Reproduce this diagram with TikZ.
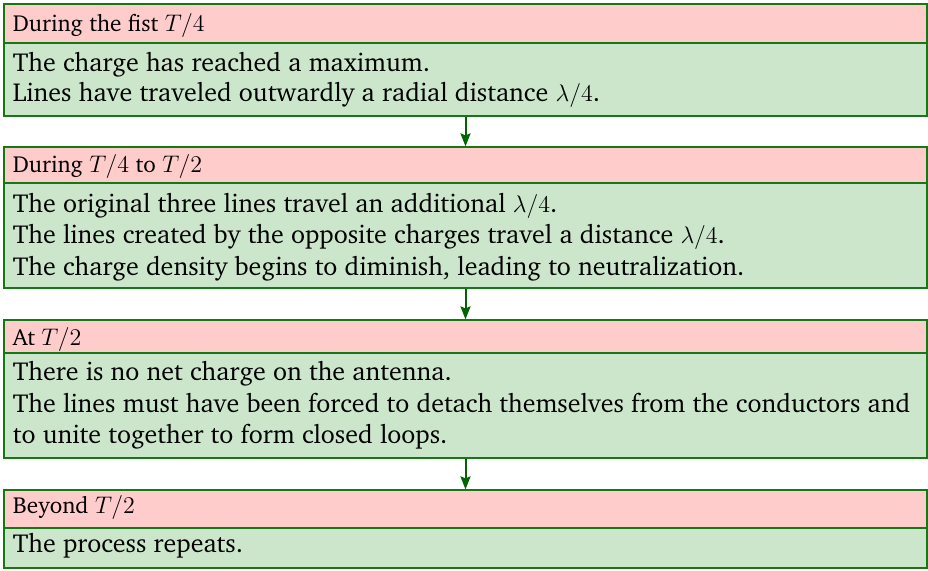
\documentclass[tikz,border=0pt]{standalone}
\usepackage[T1]{fontenc}
\usepackage{charter}
\usetikzlibrary{arrows.meta,fit}
\definecolor{hdrfill}{RGB}{255,204,204}
\definecolor{bodyfill}{RGB}{204,230,204}
\definecolor{edgec}{RGB}{20,120,20}
\definecolor{arrowc}{RGB}{0,100,0}
\tikzset{
  hdrbox/.style={draw=edgec, fill=hdrfill, line width=0.6pt, inner sep=0pt},
  bodybox/.style={draw=edgec, fill=bodyfill, line width=0.6pt, inner sep=0pt},
  htxt/.style={anchor=base west, inner sep=0pt, font=\fontsize{11.6}{13}\selectfont},
  btxt/.style={anchor=base west, inner sep=0pt, font=\fontsize{13}{15}\selectfont},
  flowarrow/.style={draw=arrowc, line width=1pt, -{Stealth[length=6.5pt,width=5pt,inset=1pt]}}
}
\begin{document}
\begin{tikzpicture}[x=0.5pt,y=-0.5pt]
\useasboundingbox (0,0) rectangle (928,570);
% box 1
\node[bodybox, fit={(4,43) (927,116)}] (b1) {};
\node[hdrbox, fit={(4,4) (927,43)}] (h1) {};
\node[htxt] (h1t) at (12.5,31) {During the fist $T/4$};
\node[btxt] (b1a) at (12.5,71) {The charge has reached a maximum.};
\node[btxt] (b1b) at (12.5,101) {Lines have traveled outwardly a radial distance $\lambda/4$.};
% box 2
\node[bodybox, fit={(4,183) (927,288)}] (b2) {};
\node[hdrbox, fit={(4,147) (927,183)}] (h2) {};
\node[htxt] (h2t) at (12.5,172) {During $T/4$ to $T/2$};
\node[btxt] (b2a) at (12.5,212) {The original three lines travel an additional $\lambda/4$.};
\node[btxt] (b2b) at (12.5,243) {The lines created by the opposite charges travel a distance $\lambda/4$.};
\node[btxt] (b2c) at (12.5,275) {The charge density begins to diminish, leading to neutralization.};
% box 3
\node[bodybox, fit={(4,353) (927,458)}] (b3) {};
\node[hdrbox, fit={(4,320) (927,353)}] (h3) {};
\node[htxt] (h3t) at (12.5,345) {At $T/2$};
\node[btxt] (b3a) at (12.5,380) {There is no net charge on the antenna.};
\node[btxt] (b3b) at (12.5,412) {The lines must have been forced to detach themselves from the conductors and};
\node[btxt] (b3c) at (12.5,443) {to unite together to form closed loops.};
% box 4
\node[bodybox, fit={(4,528) (927,568)}] (b4) {};
\node[hdrbox, fit={(4,490) (927,528)}] (h4) {};
\node[htxt] (h4t) at (12.5,513) {Beyond $T/2$};
\node[btxt] (b4a) at (12.5,552) {The process repeats.};
% arrows
\draw[flowarrow] (b1.south) -- (h2.north);
\draw[flowarrow] (b2.south) -- (h3.north);
\draw[flowarrow] (b3.south) -- (h4.north);
\end{tikzpicture}
\end{document}
